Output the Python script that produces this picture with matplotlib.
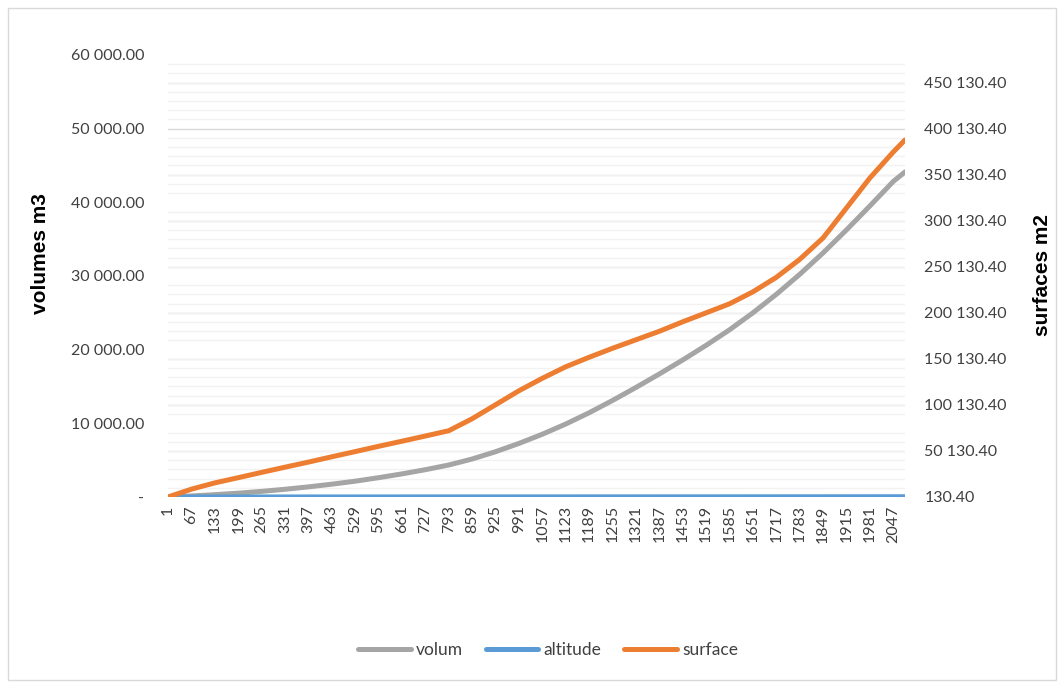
import matplotlib
matplotlib.use("Agg")
import matplotlib.pyplot as plt
from matplotlib.ticker import MultipleLocator, FuncFormatter
from matplotlib.patches import Rectangle

# --- données ---
categories = list(range(1, 2048, 66)) + [2080]

volum = [0, 136, 312, 515, 760, 1045, 1370, 1736, 2143, 2618, 3134, 3703,
         4341, 5155, 6145, 7271, 8519, 9902, 11435, 13104, 14867, 16699,
         18598, 20592, 22694, 25000, 27510, 30223, 33139, 36259, 39515,
         42838, 44126]

altitude = [0, 1, 2, 3, 4, 5, 6, 7, 8, 9, 10, 11, 12, 13, 14, 15, 16, 17,
            18, 19, 20, 21, 22, 23, 24, 25, 26, 27, 28, 29, 30, 31, 32]

surface = [130.4, 8600, 15430, 21070, 26830, 32470, 38000, 43760, 49400,
           55150, 60680, 66330, 72080, 85100, 100290, 115490, 129050, 141530,
           151840, 161610, 170830, 180060, 190370, 200130, 209900, 222920,
           238660, 258190, 281520, 314080, 346630, 374850, 387880]

GRIS = "#A5A5A5"
BLEU = "#5B9BD5"
ORANGE = "#ED7D31"
TEXTE = "#404040"

plt.rcParams["font.family"] = ["Lato", "DejaVu Sans"]

fig = plt.figure(figsize=(10.64, 6.82), dpi=100)
ax = fig.add_axes([0.1579, 0.2713, 0.6927, 0.6481])
ax2 = ax.twinx()

# cadre du graphique
fig.patches.append(Rectangle((8 / 1064, 2 / 682), 1048 / 1064, 672 / 682,
                             transform=fig.transFigure, fill=False,
                             edgecolor="#D9D9D9", linewidth=1))

# axe principal : volumes
ax.set_xlim(1, 2080)
ax.set_ylim(0, 60000)
ax2.set_ylim(130.4, 480130.4)

# quadrillage aligné sur l'axe secondaire (pas de 50 000 / 10 000)
ax.yaxis.set_minor_locator(MultipleLocator(1250))
ax.grid(which="minor", axis="y", color="#F2F2F2", linewidth=1, zorder=0)
for g in range(0, 60001, 6250):
    ax.axhline(g, color="#D9D9D9", linewidth=1, zorder=0.5)

ax.plot(categories, volum, color=GRIS, lw=3.6, solid_capstyle="round",
        label="volum", zorder=2)
ax.plot(categories, altitude, color=BLEU, lw=3.6, solid_capstyle="round",
        label="altitude", zorder=3)
ax2.plot(categories, surface, color=ORANGE, lw=3.6, solid_capstyle="round",
         label="surface", zorder=4)

ax.set_yticks(range(0, 60001, 10000))
ax.yaxis.set_major_formatter(FuncFormatter(
    lambda v, p: "-" if v == 0 else f"{v:,.2f}".replace(",", " ")))
ax2.set_yticks([130.4 + 50000 * i for i in range(10)])
ax2.yaxis.set_major_formatter(FuncFormatter(
    lambda v, p: f"{v:,.2f}".replace(",", " ")))

ax.set_xticks(categories[:-1])
ax.set_xticklabels([str(c) for c in categories[:-1]], rotation=90)

for a in (ax, ax2):
    for s in a.spines.values():
        s.set_visible(False)
    a.tick_params(which="both", length=0, colors=TEXTE, labelsize=11.5)
    a.set_facecolor("none")
ax.tick_params(axis="y", pad=17)
ax2.tick_params(axis="y", pad=14)
ax.tick_params(axis="x", pad=6)
ax.tick_params(axis="y", which="minor", labelleft=False)

titre = dict(fontsize=15, fontweight="bold", color="black",
             family=["Liberation Sans", "DejaVu Sans"])
ax.set_ylabel("volumes m3", **titre)
ax.yaxis.set_label_coords(-0.16, 0.55)
ax2.set_ylabel("surfaces m2", rotation=90, **titre)
ax2.yaxis.set_label_coords(1.174, 0.502)

h1, l1 = ax.get_legend_handles_labels()
h2, l2 = ax2.get_legend_handles_labels()
leg = fig.legend(h1 + h2, l1 + l2, loc="center", ncol=3,
                 bbox_to_anchor=(0.515, 1 - 650 / 682), frameon=False,
                 fontsize=12.5, handlelength=3.05, handletextpad=0.3,
                 columnspacing=1.3)
for t in leg.get_texts():
    t.set_color(TEXTE)

fig.savefig("out.png", dpi=100)
